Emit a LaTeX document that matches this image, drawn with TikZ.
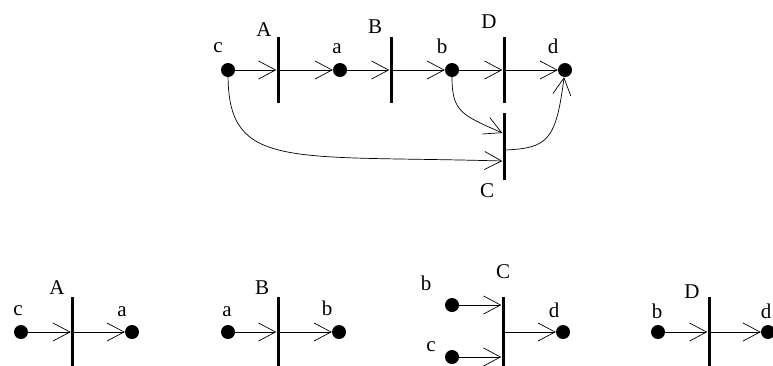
\documentclass[tikz,border=0pt]{standalone}
\usepackage{fontspec}
\setmainfont{Liberation Serif}
\usetikzlibrary{arrows.meta}
\begin{document}
\begin{tikzpicture}[x=1pt,y=1pt,
  place/.style={circle,fill=black,inner sep=0pt,minimum size=14pt},
  trans/.style={rectangle,fill=black,inner sep=0pt,minimum width=3pt,minimum height=66pt},
  transb/.style={trans,minimum height=70pt},
  lbl/.style={inner sep=0pt,font=\fontsize{21}{21}\selectfont},
  arr/.style={line width=0.7pt,-{Straight Barb[length=17pt,width=18pt,line width=0.7pt]}},
  ln/.style={line width=0.7pt}]
\useasboundingbox (0,0) rectangle (773,-365);
\clip (0,0) rectangle (773,-365);
% ---------- top net ----------
\node[place] (c) at (228,-70) {};
\node[trans] (A) at (278,-70) {};
\node[place] (a) at (340,-70) {};
\node[trans] (B) at (391,-70) {};
\node[place] (b) at (452,-70) {};
\node[trans] (D) at (504,-70) {};
\node[place] (d) at (565,-70) {};
\node[trans,minimum height=67pt] (C) at (504,-146.5) {};
\node[lbl] (lc) at (218,-48) {c};
\node[lbl] (lA) at (264,-30) {A};
\node[lbl] (la) at (337,-49) {a};
\node[lbl] (lB) at (375,-27) {B};
\node[lbl] (lb) at (442,-46) {b};
\node[lbl] (lD) at (489,-22) {D};
\node[lbl] (ld) at (553,-46) {d};
\node[lbl] (lC) at (487,-191) {C};
\draw[arr] (c) -- (A);
\draw[arr] (A) -- (a);
\draw[arr] (a) -- (B);
\draw[arr] (B) -- (b);
\draw[arr] (b) -- (D);
\draw[arr] (D) -- (d);
\draw[arr] (b) .. controls (452,-112) and (462,-115) .. ([yshift=13.5pt]C.west);
\draw[arr] (c) .. controls (229,-170) and (290,-155) .. ([yshift=-14.5pt]C.west);
\draw[arr] ([yshift=-3.5pt]C.east) .. controls (548,-148) and (556,-140) .. (d);
% ---------- bottom: A ----------
\node[place] (c2) at (21,-332) {};
\node[transb] (A2) at (72.5,-332) {};
\node[place] (a2) at (132,-332) {};
\node[lbl] (lc2) at (18,-311) {c};
\node[lbl] (lA2) at (57,-288) {A};
\node[lbl] (la2) at (122,-312) {a};
\draw[arr] (c2) -- (A2);
\draw[arr] (A2) -- (a2);
% ---------- bottom: B ----------
\node[place] (a3) at (228,-332) {};
\node[transb] (B2) at (278,-332) {};
\node[place] (b3) at (339,-332) {};
\node[lbl] (la3) at (227,-312) {a};
\node[lbl] (lB2) at (262,-288) {B};
\node[lbl] (lb3) at (327,-308) {b};
\draw[arr] (a3) -- (B2);
\draw[arr] (B2) -- (b3);
% ---------- bottom: C ----------
\node[place] (b4) at (452,-305) {};
\node[place] (c4) at (452,-357) {};
\node[transb] (C2) at (503,-332) {};
\node[place] (d4) at (563,-332) {};
\node[lbl] (lb4) at (426,-283) {b};
\node[lbl] (lc4) at (431,-347) {c};
\node[lbl] (lC2) at (503,-272) {C};
\node[lbl] (ld4) at (554,-310) {d};
\draw[arr] (b4) -- (b4 -| C2.west);
\draw[arr] (c4) -- (c4 -| C2.west);
\draw[arr] (C2) -- (d4);
% ---------- bottom: D ----------
\node[place] (b5) at (658,-332) {};
\node[transb] (D2) at (709,-332) {};
\node[place] (d5) at (768,-332) {};
\node[lbl] (lb5) at (657,-311) {b};
\node[lbl] (lD2) at (692,-292) {D};
\node[lbl] (ld5) at (766,-311) {d};
\draw[arr] (b5) -- (D2);
\draw[arr] (D2) -- (d5);
\end{tikzpicture}
\end{document}
